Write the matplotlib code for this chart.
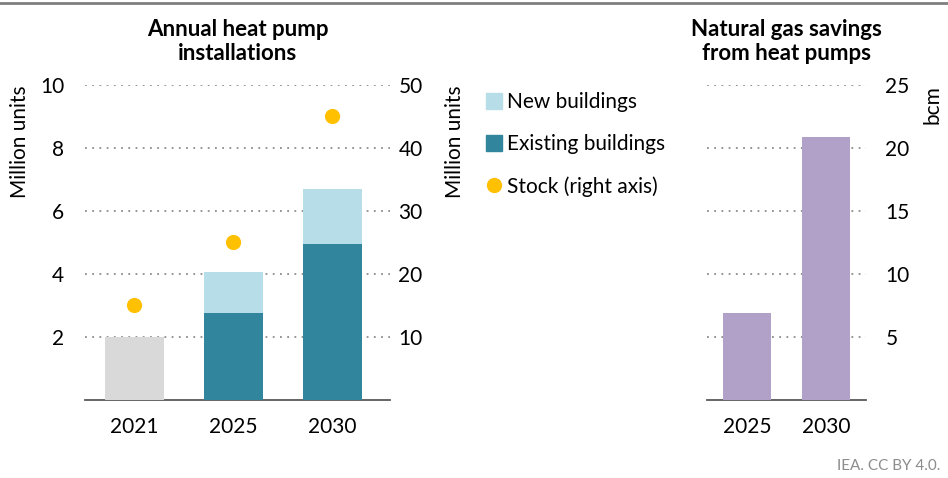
import matplotlib
matplotlib.use("Agg")
import matplotlib.pyplot as plt
from matplotlib.lines import Line2D

plt.rcParams['font.family'] = ['Lato', 'DejaVu Sans']

# Data
years_left = ["2021", "2025", "2030"]
historic = [2.0, 0, 0]
existing = [0, 2.75, 4.95]
new = [0, 1.3, 1.75]
stock = [15, 25, 45]

years_right = ["2025", "2030"]
gas_savings = [6.9, 20.9]

c_new = "#b7dde8"
c_exist = "#31859c"
c_hist = "#d9d9d9"
c_stock = "#ffc000"
c_gas = "#b1a0c7"
grid_c = "#8c8c8c"
fs = 15

fig = plt.figure(figsize=(9.48, 4.78), dpi=100)
W, H = 948, 478

def ax_rect(x0, y0, x1, y1):
    return [x0 / W, 1 - y1 / H, (x1 - x0) / W, (y1 - y0) / H]

# Left panel
ax = fig.add_axes(ax_rect(85, 85, 390, 400))
x = list(range(len(years_left)))
ax.bar(x, historic, width=0.6, color=c_hist, zorder=3)
ax.bar(x, existing, width=0.6, color=c_exist, zorder=3)
ax.bar(x, new, width=0.6, bottom=existing, color=c_new, zorder=3)
ax.set_ylim(0, 10)
ax.set_xlim(-0.5, 2.58)
ax.set_yticks([2, 4, 6, 8, 10])
ax.set_xticks(x)
ax.set_xticklabels(years_left)
ax.yaxis.grid(True, linestyle=(0, (1, 3)), color=grid_c, linewidth=1.3)
for s in ["top", "right", "left"]:
    ax.spines[s].set_visible(False)
ax.spines["bottom"].set_color("#595959")
ax.spines["bottom"].set_linewidth(1.3)
ax.tick_params(axis="both", length=0, labelsize=fs, pad=12)
ax.tick_params(axis="y", pad=15)
ax.set_ylabel("Million units", fontsize=fs, loc="top")
ax.yaxis.set_label_coords(-55 / 305, 1.0)
ax.set_title("Annual heat pump\ninstallations", fontsize=16, fontweight="bold", pad=18)

ax2 = ax.twinx()
ax2.scatter(x, stock, s=120, color=c_stock, zorder=4, edgecolors="none")
ax2.set_ylim(0, 50)
ax2.set_yticks([10, 20, 30, 40, 50])
for s in ["top", "right", "left", "bottom"]:
    ax2.spines[s].set_visible(False)
ax2.tick_params(axis="both", length=0, labelsize=fs, pad=6)
ax2.set_ylabel("Million units", fontsize=fs, loc="top")
ax2.yaxis.set_label_coords((445 - 85) / 305, 1.0)

# Legend
handles = [
    Line2D([], [], marker="s", linestyle="none", markersize=12, color=c_new),
    Line2D([], [], marker="s", linestyle="none", markersize=12, color=c_exist),
    Line2D([], [], marker="o", linestyle="none", markersize=10, color=c_stock),
]
labels = ["New buildings", "Existing buildings", "Stock (right axis)"]
fig.legend(handles, labels, loc="upper left", bbox_to_anchor=(477 / W, 1 - 84 / H),
           frameon=False, fontsize=fs, handlelength=0.8, handletextpad=0.25,
           labelspacing=1.05, borderaxespad=0)

# Right panel
axr = fig.add_axes(ax_rect(707, 85, 866, 400))
xr = list(range(len(years_right)))
axr.bar(xr, gas_savings, width=0.6, color=c_gas, zorder=3)
axr.set_ylim(0, 25)
axr.set_xlim(-0.5, 1.5)
axr.set_yticks([5, 10, 15, 20, 25])
axr.set_xticks(xr)
axr.set_xticklabels(years_right)
axr.yaxis.tick_right()
axr.yaxis.set_label_position("right")
axr.yaxis.grid(True, linestyle=(0, (1, 3)), color=grid_c, linewidth=1.3)
for s in ["top", "right", "left"]:
    axr.spines[s].set_visible(False)
axr.spines["bottom"].set_color("#595959")
axr.spines["bottom"].set_linewidth(1.3)
axr.tick_params(axis="both", length=0, labelsize=fs, pad=12)
axr.tick_params(axis="y", pad=14)
axr.set_ylabel("bcm", fontsize=fs, loc="top")
axr.yaxis.set_label_coords((923 - 707) / 159, 1.0)
axr.set_title("Natural gas savings\nfrom heat pumps", fontsize=16, fontweight="bold", pad=18)

# Top rule and footer
fig.add_artist(Line2D([0, 1], [1 - 3 / H, 1 - 3 / H], color="#7f7f7f", linewidth=2))
fig.text(940 / W, 1 - 466 / H, "IEA. CC BY 4.0.", ha="right", va="center",
         fontsize=11, color="#8c8c8c")

fig.savefig("out.png", dpi=100)
